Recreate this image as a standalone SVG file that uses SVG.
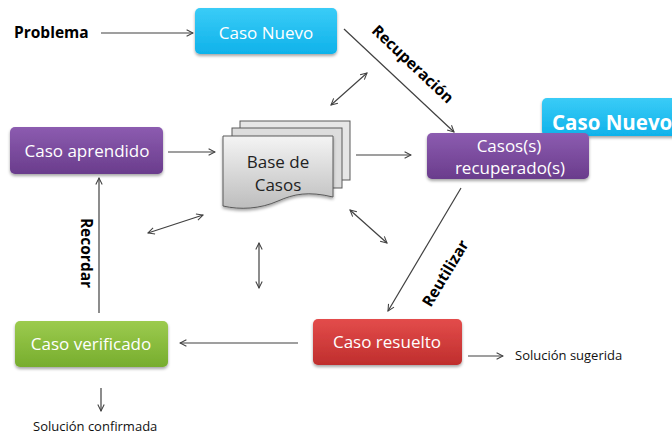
<svg xmlns="http://www.w3.org/2000/svg" width="672" height="434" viewBox="0 0 672 434">
<defs>
<linearGradient id="gCyan" x1="0" y1="0" x2="0" y2="1"><stop offset="0" stop-color="#3ACCF7"/><stop offset="1" stop-color="#0FB2EA"/></linearGradient>
<linearGradient id="gPurple" x1="0" y1="0" x2="0" y2="1"><stop offset="0" stop-color="#8C5CB0"/><stop offset="1" stop-color="#6A3C8C"/></linearGradient>
<linearGradient id="gGreen" x1="0" y1="0" x2="0" y2="1"><stop offset="0" stop-color="#9CCB4E"/><stop offset="1" stop-color="#77AD2E"/></linearGradient>
<linearGradient id="gRed" x1="0" y1="0" x2="0" y2="1"><stop offset="0" stop-color="#E34C4B"/><stop offset="1" stop-color="#BF2E2D"/></linearGradient>
<linearGradient id="gDoc" x1="0" y1="0" x2="0" y2="1"><stop offset="0" stop-color="#F4F4F4"/><stop offset="1" stop-color="#BDBDBD"/></linearGradient>
<filter id="sh" x="-10%" y="-20%" width="130%" height="150%"><feDropShadow dx="0" dy="2" stdDeviation="1.8" flood-color="#000" flood-opacity="0.35"/></filter>
<marker id="ah" viewBox="0 0 10 10" refX="9" refY="5" markerWidth="8" markerHeight="8" markerUnits="userSpaceOnUse" orient="auto-start-reverse"><path d="M1,1 L9,5 L1,9" fill="none" stroke="#404040" stroke-width="1.3"/></marker>
</defs>
<style>
.box{filter:url(#sh);}
.lbl{font-family:"Open Sans","Liberation Sans",sans-serif;font-size:17px;fill:#fff;text-anchor:middle;}
.doc{stroke:#5A5A5A;stroke-width:1;}
.ln{stroke:#404040;stroke-width:1.2;fill:none;}
.arr{marker-end:url(#ah);}
.dbl{marker-end:url(#ah);marker-start:url(#ah);}
.bold{font-family:"Open Sans","Liberation Sans",sans-serif;font-weight:bold;font-size:15.5px;fill:#000;}
.small{font-family:"Open Sans","Liberation Sans",sans-serif;font-size:13px;fill:#111;}
</style>
<rect width="672" height="434" fill="#fff"/>

<g id="connectors">
<line class="ln arr" x1="101" y1="33" x2="193" y2="33"/>
<line class="ln arr" x1="344" y1="29" x2="454" y2="132"/>
<line class="ln dbl" x1="331" y1="105" x2="367" y2="73"/>
<line class="ln arr" x1="168" y1="152" x2="215" y2="152"/>
<line class="ln arr" x1="356" y1="155" x2="411" y2="155"/>
<line class="ln dbl" x1="148" y1="233" x2="203" y2="215"/>
<line class="ln dbl" x1="259" y1="243" x2="259" y2="288"/>
<line class="ln dbl" x1="350" y1="210" x2="387" y2="243"/>
<line class="ln arr" x1="461" y1="188" x2="388" y2="311"/>
<line class="ln arr" x1="298" y1="343" x2="180" y2="343"/>
<line class="ln arr" x1="99" y1="313" x2="99" y2="178"/>
<line class="ln arr" x1="468" y1="356" x2="503" y2="356"/>
<line class="ln arr" x1="101" y1="388" x2="101" y2="411"/>
</g>

<g id="labels">
<text class="bold" x="14" y="38" font-size="16.5">Problema</text>
<text class="bold" transform="translate(409,68) rotate(43.4)" text-anchor="middle" font-size="16">Recuperación</text>
<text class="bold" transform="translate(450,276) rotate(-59)" text-anchor="middle" font-size="16">Reutilizar</text>
<text class="bold" transform="translate(81,253) rotate(90)" text-anchor="middle" font-size="16">Recordar</text>
<text class="small" x="515" y="360">Solución sugerida</text>
<text class="small" x="33" y="431">Solución confirmada</text>
</g>

<g id="caso-nuevo-2">
<rect class="box" x="542" y="98" width="140" height="38" rx="5" fill="url(#gCyan)"/>
<text x="552" y="130" font-family="'Open Sans','Liberation Sans',sans-serif" font-weight="bold" font-size="20.5" fill="#fff">Caso Nuevo</text>
</g>

<g id="caso-nuevo">
<rect class="box" x="195" y="8" width="142" height="46" rx="5" fill="url(#gCyan)"/>
<text class="lbl" x="266" y="39" font-size="20.5">Caso Nuevo</text>
</g>

<g id="casos-recuperados">
<rect class="box" x="427" y="133" width="162" height="46" rx="5" fill="url(#gPurple)"/>
<text class="lbl" x="509" y="152">Casos(s)</text>
<text class="lbl" x="510" y="174">recuperado(s)</text>
</g>

<g id="caso-aprendido">
<rect class="box" x="10" y="127" width="153" height="47" rx="5" fill="url(#gPurple)"/>
<text class="lbl" x="87" y="157">Caso aprendido</text>
</g>

<g id="base-de-casos">
<rect class="doc" x="240" y="121" width="110" height="59" fill="#E6E6E6"/>
<rect class="doc" x="232" y="128" width="110" height="60" fill="#DDDDDD"/>
<path class="doc" d="M223,136 H333 V197 C308,191 294,194 278,201 C260,209 240,210 223,206 Z" fill="url(#gDoc)" filter="url(#sh)"/>
<text x="278" y="168" font-family="'Open Sans','Liberation Sans',sans-serif" font-size="17" fill="#222" text-anchor="middle">Base de</text>
<text x="278" y="191" font-family="'Open Sans','Liberation Sans',sans-serif" font-size="17" fill="#222" text-anchor="middle">Casos</text>
</g>

<g id="caso-resuelto">
<rect class="box" x="313" y="319" width="149" height="46" rx="5" fill="url(#gRed)"/>
<text class="lbl" x="387" y="348">Caso resuelto</text>
</g>

<g id="caso-verificado">
<rect class="box" x="15" y="321" width="153" height="46" rx="5" fill="url(#gGreen)"/>
<text class="lbl" x="91" y="350">Caso verificado</text>
</g>
</svg>
